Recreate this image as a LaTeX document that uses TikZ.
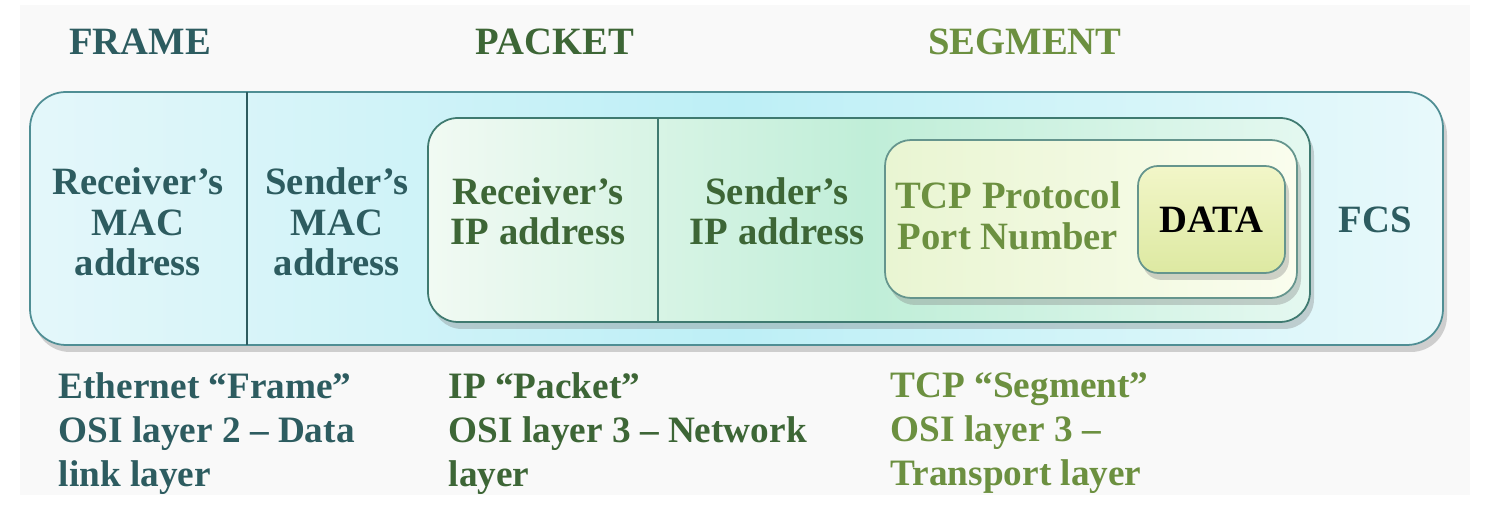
\documentclass[tikz,border=0pt]{standalone}
\usepackage{fontspec}
\setmainfont{Liberation Serif}
\usepackage{tikz}
\usetikzlibrary{positioning,shadows}

\definecolor{macteal}{HTML}{2D5C60}
\definecolor{ipgreen}{HTML}{3D6636}
\definecolor{tcpgreen}{HTML}{6C9040}
\definecolor{frameedge}{HTML}{4F8E94}
\definecolor{packetedge}{HTML}{3F7A70}
\definecolor{framefillA}{HTML}{E4F7FA}
\definecolor{framefillB}{HTML}{BDEFF6}
\definecolor{framefillC}{HTML}{E8F9FB}
\definecolor{packetfillA}{HTML}{F1FAF3}
\definecolor{packetfillB}{HTML}{C0EED8}
\definecolor{packetfillC}{HTML}{E4F8F0}
\definecolor{segfillA}{HTML}{E9F5D2}
\definecolor{segfillB}{HTML}{FAFDEE}
\definecolor{datafillA}{HTML}{F2F6C8}
\definecolor{datafillB}{HTML}{DDE9A2}

\begin{document}
\begin{tikzpicture}[
    x=0.1mm, y=-0.1mm,
    every node/.style={font=\fontsize{11}{11.5}\selectfont\bfseries, align=center},
    heading/.style={font=\fontsize{11}{12}\selectfont\bfseries},
    note/.style={anchor=north west, align=left, inner sep=0pt,
        font=\fontsize{10.6}{12.5}\selectfont\bfseries},
    box/.style={draw, line width=0.5pt, inner sep=0pt, outer sep=0pt,
        drop shadow={opacity=0.35, shadow xshift=0.4mm, shadow yshift=-0.7mm}},
    framebox/.style={box, draw=frameedge, rounded corners=3.6mm,
        left color=framefillA, right color=framefillC, middle color=framefillB},
    packetbox/.style={box, draw=packetedge, rounded corners=3mm,
        left color=packetfillA, right color=packetfillC, middle color=packetfillB},
    segmentbox/.style={box, draw=packetedge!80, rounded corners=2.6mm,
        left color=segfillA, right color=segfillB},
    databox/.style={box, draw=packetedge!80, rounded corners=2mm,
        top color=datafillA, bottom color=datafillB},
    divider/.style={draw=macteal, line width=0.6pt}
]
    \useasboundingbox (0,0) rectangle (1485,517);
    \fill[gray!5] (20,5) rectangle (1470,495);

    % headings
    \node[heading, text=macteal] (hframe) at (140,42) {FRAME};
    \node[heading, text=ipgreen] (hpacket) at (555,42) {PACKET};
    \node[heading, text=tcpgreen] (hsegment) at (1025,42) {SEGMENT};

    % nested boxes
    \node[framebox, minimum width=14.13cm, minimum height=2.53cm] (frame) at (736.5,218.5) {};
    \draw[divider] (247,92) -- (247,345);
    \node[packetbox, minimum width=8.82cm, minimum height=2.04cm] (packet) at (869,220) {};
    \draw[divider, draw=packetedge] (658,118) -- (658,322);
    \node[segmentbox, minimum width=4.12cm, minimum height=1.58cm] (segment) at (1091,219) {};
    \node[databox, minimum width=1.47cm, minimum height=1.07cm] (data) at (1211.5,219.5) {};

    % fields
    \node[text=macteal] (rmac) at (138,222) {Receiver's\\MAC\\address};
    \node[text=macteal] (smac) at (337,222) {Sender's\\MAC\\address};
    \node[text=ipgreen] (rip) at (538,211) {Receiver's\\IP address};
    \node[text=ipgreen] (sip) at (777,211) {Sender's\\IP address};
    \node[text=tcpgreen] (port) at (1008,216) {TCP Protocol\\Port Number};
    \node[text=black] (dlabel) at (data) {DATA};
    \node[text=macteal] (fcs) at (1375,220) {FCS};

    % layer notes
    \node[note, text=macteal] (nframe) at (58,372) {Ethernet “Frame”\\OSI layer 2 – Data\\link layer};
    \node[note, text=ipgreen] (npacket) at (448,372) {IP “Packet”\\OSI layer 3 – Network\\layer};
    \node[note, text=tcpgreen] (nsegment) at (890,372) {TCP “Segment”\\OSI layer 3 –\\Transport layer};
\end{tikzpicture}
\end{document}
